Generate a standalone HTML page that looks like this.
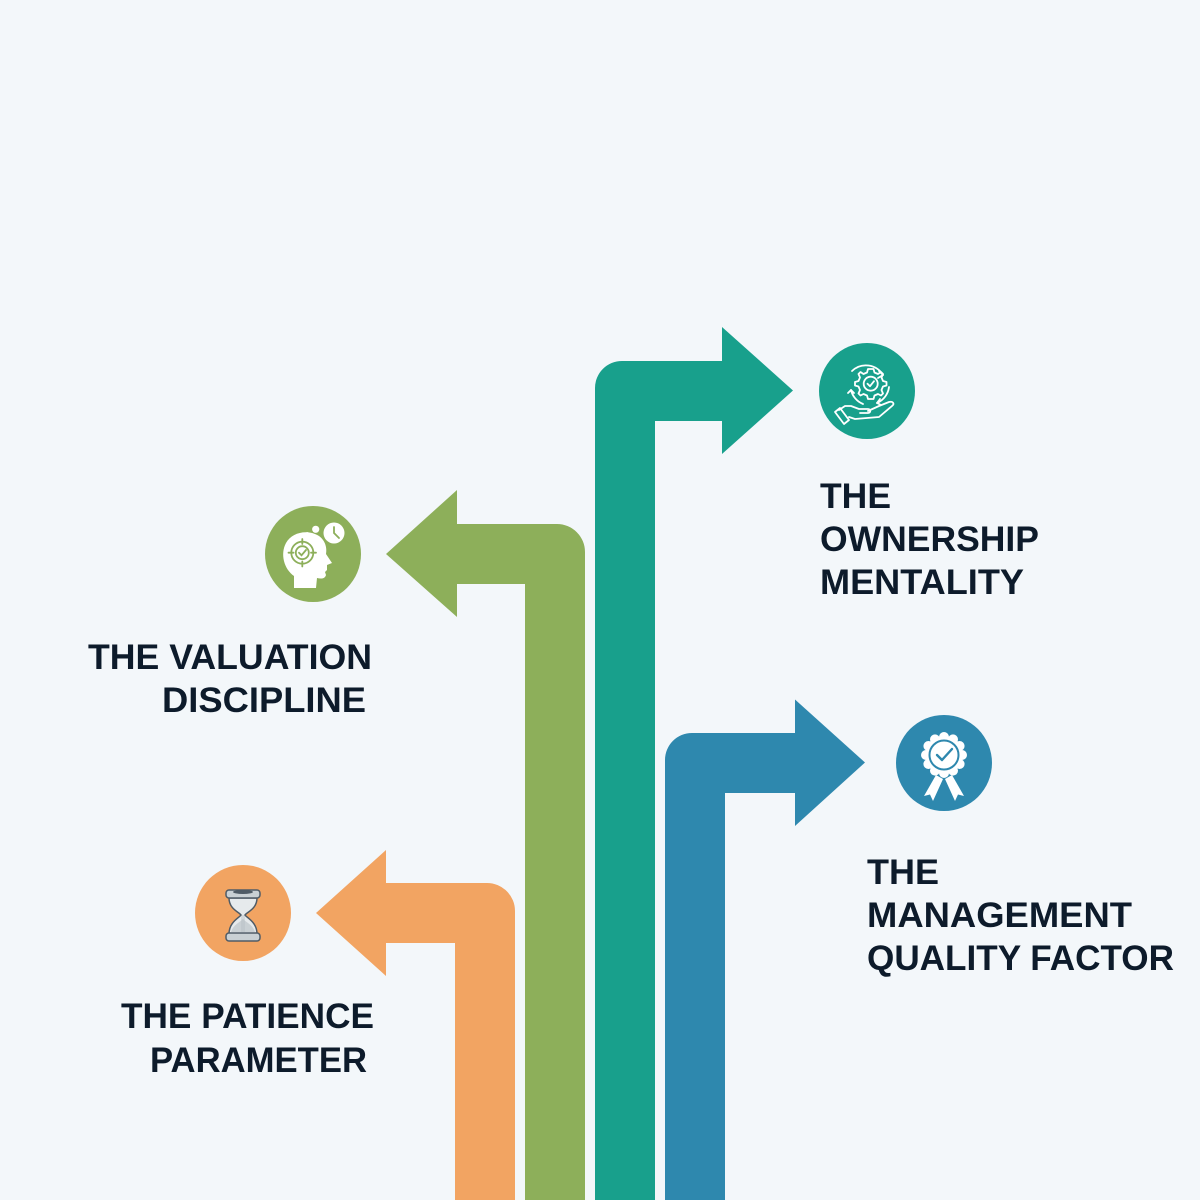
<!DOCTYPE html>
<html>
<head>
<meta charset="utf-8">
<style>
html,body{margin:0;padding:0;background:#f3f7fa;}
svg{display:block;}
text{font-family:"Liberation Sans",Arial,sans-serif;font-weight:bold;font-size:35px;fill:#0d1b2b;}
</style>
</head>
<body>
<svg width="1200" height="1200" viewBox="0 0 1200 1200" xmlns="http://www.w3.org/2000/svg">
<rect width="1200" height="1200" fill="#f3f7fa"/>

<!-- Orange arrow -->
<path d="M455,1200 L455,943 L386,943 L386,976 L316,913 L386,850 L386,883 L487,883 A28,28 0 0 1 515,911 L515,1200 Z" fill="#f2a462"/>
<!-- Green arrow -->
<path d="M525,1200 L525,584 L457,584 L457,617 L386,554 L457,490 L457,524 L557,524 A28,28 0 0 1 585,552 L585,1200 Z" fill="#8daf5a"/>
<!-- Teal arrow -->
<path d="M595,1200 L595,388 A27,27 0 0 1 622,361 L722,361 L722,327 L793,390.5 L722,454 L722,421 L655,421 L655,1200 Z" fill="#18a08c"/>
<!-- Blue arrow -->
<path d="M665,1200 L665,760 A27,27 0 0 1 692,733 L795,733 L795,699.5 L865,762.5 L795,826 L795,793 L725,793 L725,1200 Z" fill="#2e88ae"/>

<!-- Teal circle + icon -->
<g transform="translate(867,391)">
  <circle r="48" fill="#18a08c"/>
  <g fill="none" stroke="#fff" stroke-width="1.8" stroke-linecap="round" stroke-linejoin="round">
    <!-- circular arrows -->
    <path d="M-15,-20 A20,20 0 0 1 16,-16"/>
    <path d="M12,-20 L16,-16 L11,-13"/>
    <path d="M22,-4 A20,20 0 0 1 10,12"/>
    <path d="M13,8 L10,12 L14,14"/>
    <path d="M-4,13 A20,20 0 0 1 -16,-1"/>
    <path d="M-19,2 L-16,-1 L-13,2"/>
    <!-- gear -->
    <path d="M3.7,-22 L6.5,-22 L7.5,-18.5 L11,-17 L14,-19 L16,-17 L14.5,-13.5 L16,-10 L19.5,-9 L19.5,-5.5 L16,-4.5 L14.5,-1 L16,2.5 L14,4.5 L11,3 L7.5,4.5 L6.5,8 L1,8 L0,4.5 L-3.5,3 L-6.5,4.5 L-8.5,2.5 L-7,-1 L-8.5,-4.5 L-12,-5.5 L-12,-9 L-8.5,-10 L-7,-13.5 L-8.5,-17 L-6.5,-19 L-3.5,-17 L0,-18.5 L1,-22 Z"/>
    <circle cx="3.7" cy="-7.3" r="7"/>
    <path d="M0.5,-7.3 L3,-4.8 L7,-9.8"/>
    <!-- hand -->
    <path d="M-28,19 L-22,15 L-16,15 L-8,18 L1,18 C4,18 4,22 1,22 L-7,22"/>
    <path d="M1,20 L12,15 L22,11 C26,10 28,13 25,15 L12,26 L-12,28 L-18,26"/>
    <path d="M-32,21 L-27,17 L-18,29 L-23,33 Z"/>
  </g>
</g>

<!-- Green circle + icon -->
<g transform="translate(313,554)">
  <circle r="48" fill="#8daf5a"/>
  <path d="M-19,34 L-19,22 C-29,15 -33,0 -27,-11 C-21,-22 -5,-25 6,-18 C13,-13 14,-5 13,0 L19,9 L14,11 L14,16 L12,18 L13,21 C12,25 8,25 4,24 L3,34 Z" fill="#fff"/>
  <circle cx="21" cy="-21" r="10.5" fill="#fff"/>
  <path d="M21,-27 L21,-21 L26,-16" fill="none" stroke="#8daf5a" stroke-width="1.8" stroke-linecap="round"/>
  <circle cx="2.7" cy="-24.7" r="3.6" fill="#fff"/>
  <circle cx="-5.7" cy="-19.7" r="2.2" fill="#fff"/>
  <g fill="none" stroke="#8daf5a" stroke-width="1.8" stroke-linecap="round">
    <circle cx="-10.7" cy="-1.3" r="11"/>
    <circle cx="-10.7" cy="-1.3" r="6.5"/>
    <path d="M-10.7,-15 L-10.7,-10 M-10.7,7.5 L-10.7,12.5 M-24.5,-1.3 L-19.5,-1.3 M-2,-1.3 L3,-1.3"/>
    <path d="M-14,-1.3 L-11.5,1.3 L-7,-4"/>
  </g>
</g>

<!-- Blue circle + icon -->
<g transform="translate(944,763)">
  <circle r="48" fill="#2e88ae"/>
  <g fill="#fff">
    <path d="M-8,12 L-20,33 L-14,31.5 L-11,38 L-1,16 Z"/>
    <path d="M8,12 L20,33 L14,31.5 L11,38 L1,16 Z"/>
    <circle cx="0" cy="-8" r="19"/>
    <circle cx="0" cy="-26" r="5"/>
    <circle cx="9" cy="-23.6" r="5"/>
    <circle cx="15.6" cy="-17" r="5"/>
    <circle cx="18" cy="-8" r="5"/>
    <circle cx="15.6" cy="1" r="5"/>
    <circle cx="9" cy="7.6" r="5"/>
    <circle cx="0" cy="10" r="5"/>
    <circle cx="-9" cy="7.6" r="5"/>
    <circle cx="-15.6" cy="1" r="5"/>
    <circle cx="-18" cy="-8" r="5"/>
    <circle cx="-15.6" cy="-17" r="5"/>
    <circle cx="-9" cy="-23.6" r="5"/>
  </g>
  <circle cx="0" cy="-8" r="14.5" fill="none" stroke="#2e88ae" stroke-width="2"/>
  <path d="M-7,-8 L-2,-3 L8,-14" fill="none" stroke="#2e88ae" stroke-width="2.4" stroke-linecap="round" stroke-linejoin="round"/>
</g>

<!-- Orange circle + icon (hourglass) -->
<g transform="translate(243,913)">
  <circle r="48" fill="#f2a462"/>
  <path d="M-14,-15 C-14,-4 -4,-1 -2,2 C-4,5 -14,9 -14,21 L14,21 C14,9 4,5 2,2 C4,-1 14,-4 14,-15 Z" fill="#e6eaec" stroke="#4f5b66" stroke-width="1.5"/>
  <path d="M-12,19 C-10,12 -4,10 0,6 C4,10 10,12 12,19 Z" fill="#c9d0d4"/>
  <path d="M-1,2 L-1,19 M1,2 L1,19" stroke="#b5bdc2" stroke-width="0.8"/>
  <rect x="-17" y="-23" width="34" height="8" rx="3" fill="#c9d0d4" stroke="#4f5b66" stroke-width="1.5"/>
  <ellipse cx="0" cy="-21" rx="10" ry="2" fill="#4f5b66"/>
  <rect x="-17" y="20" width="34" height="8" rx="3" fill="#c9d0d4" stroke="#4f5b66" stroke-width="1.5"/>
</g>

<!-- Texts -->
<text x="820" y="508" textLength="71" lengthAdjust="spacingAndGlyphs">THE</text>
<text x="820" y="551" textLength="219" lengthAdjust="spacingAndGlyphs">OWNERSHIP</text>
<text x="820" y="594" textLength="204" lengthAdjust="spacingAndGlyphs">MENTALITY</text>

<text x="88" y="669" textLength="284" lengthAdjust="spacingAndGlyphs">THE VALUATION</text>
<text x="162" y="712" textLength="204" lengthAdjust="spacingAndGlyphs">DISCIPLINE</text>

<text x="867" y="884" textLength="72" lengthAdjust="spacingAndGlyphs">THE</text>
<text x="867" y="927" textLength="265" lengthAdjust="spacingAndGlyphs">MANAGEMENT</text>
<text x="867" y="970" textLength="307" lengthAdjust="spacingAndGlyphs">QUALITY FACTOR</text>

<text x="121" y="1028" textLength="253" lengthAdjust="spacingAndGlyphs">THE PATIENCE</text>
<text x="150" y="1072" textLength="217" lengthAdjust="spacingAndGlyphs">PARAMETER</text>
</svg>
</body>
</html>
